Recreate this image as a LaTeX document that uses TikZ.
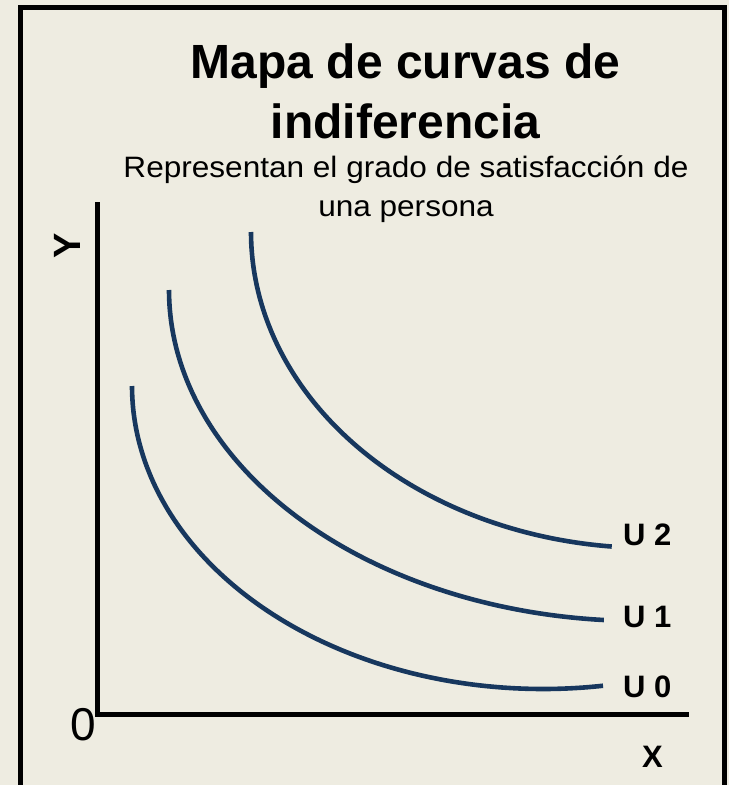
\documentclass[tikz,border=0pt]{standalone}
\usepackage{fontspec}
\setmainfont{Liberation Sans}
\newfontfamily\subfont[FakeStretch=1.07]{Liberation Sans}
\definecolor{bg}{HTML}{EEECE1}
\definecolor{curvecol}{HTML}{17375E}
\begin{document}
\begin{tikzpicture}[x=1pt,y=-1pt,
  curvestyle/.style={draw=curvecol, line width=4.6pt},
  axisline/.style={draw=black, line width=5pt},
  ulabel/.style={anchor=base west, inner sep=0pt, font=\fontsize{31}{37}\selectfont\bfseries},
  titlefont/.style={anchor=base, inner sep=0pt, font=\fontsize{48}{58}\selectfont\bfseries},
  subfontstyle/.style={anchor=base, inner sep=0pt, font=\subfont\fontsize{29.5}{35}\selectfont}]
\useasboundingbox (0,0) rectangle (729,785);
\fill[bg] (0,0) rectangle (729,785);
\begin{scope}
  \clip (0,0) rectangle (729,785);
  \coordinate (fbl) at (20.5,800);
  \coordinate (ftr) at (724.5,7.5);
  \coordinate (fbr) at (724.5,800);
  \draw[line width=5pt, line join=miter] (fbl) |- (ftr) -- (fbr);
\end{scope}

% titles
\node[titlefont] (t1) at (405.5,78) {Mapa de curvas de};
\node[titlefont] (t2) at (405.5,138) {indiferencia};
\node[subfontstyle] (s1) at (406,177.5) {Representan el grado de satisfacción de};
\node[subfontstyle] (s2) at (406,216.5) {una persona};

% axes
\coordinate (ytop) at (97,202);
\coordinate (O) at (97,714);
\coordinate (xend) at (689,714);
\draw[axisline] (ytop) -- (O) -- (xend);

\node[anchor=base, inner sep=0pt, font=\fontsize{46}{50}\selectfont] (zero) at (83.5,740) {0};
\node[anchor=center, inner sep=0pt, rotate=90, font=\fontsize{38}{42}\selectfont\bfseries] (ylab) at (67.5,245.5) {Y};
\node[anchor=base west, inner sep=0pt, font=\fontsize{31}{37}\selectfont\bfseries] (xlab) at (642,767) {X};

% curves (elliptic arcs)
\draw[curvestyle] plot[domain=180:95.5, samples=120, smooth] ({650+399*cos(\x)}, {232+316*sin(\x)});
\draw[curvestyle] plot[domain=180:94.4, samples=120, smooth] ({640+471*cos(\x)}, {290+331*sin(\x)});
\draw[curvestyle] plot[domain=180:81.6, samples=120, smooth] ({543+411*cos(\x)}, {386+303*sin(\x)});

\node[ulabel] (u2) at (623,545) {U 2};
\node[ulabel] (u1) at (623,627) {U 1};
\node[ulabel] (u0) at (623,697) {U 0};
\end{tikzpicture}
\end{document}
